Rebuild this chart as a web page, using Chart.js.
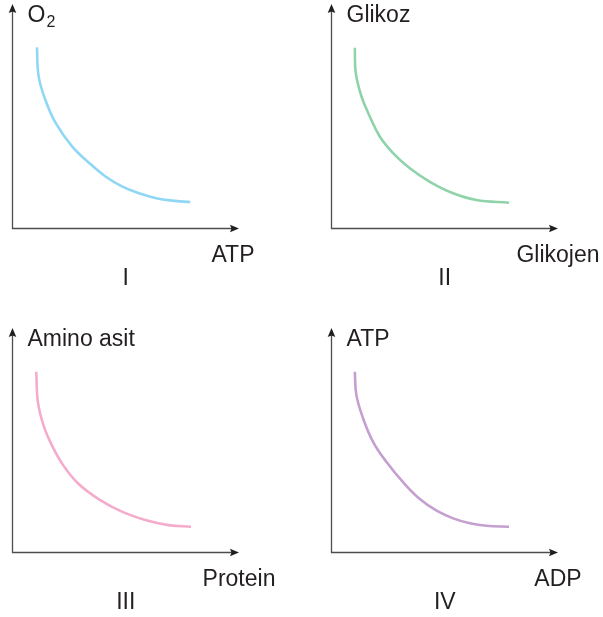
<!DOCTYPE html>
<html>
<head>
<meta charset="utf-8">
<script src="https://cdn.jsdelivr.net/npm/chart.js@4.4.1/dist/chart.umd.min.js"></script>
<style>
    body { margin: 0; background: #fff; }
    #wrap { position: relative; width: 603px; height: 617px; }
    #wrap canvas { position: absolute; }
</style>
</head>
<body>
<div id="wrap">
    <canvas id="panel1" width="300" height="308" style="left:0px;top:0px"></canvas>
    <canvas id="panel2" width="300" height="308" style="left:319px;top:0px"></canvas>
    <canvas id="panel3" width="300" height="308" style="left:0px;top:324px"></canvas>
    <canvas id="panel4" width="300" height="308" style="left:319px;top:324px"></canvas>
</div>
<script>
// values (axes run 0..100, no units)
const panelNames = ['I', 'II', 'III', 'IV'];
const yTitles = ['O', 'Glikoz', 'Amino asit', 'ATP'];
const ySubscripts = ['2', '', '', ''];
const xTitles = ['ATP', 'Glikojen', 'Protein', 'ADP'];
const curveColors = ['#8fd7f5', '#8fd3ab', '#f5abcc', '#c49fd0'];

const curveX1 = [10.8, 11.5, 14.4, 18.9, 26.2, 33.6, 40.9, 48.3, 55.6, 63.0, 70.4, 78.5];
const curveY1 = [80.7, 68.0, 57.6, 47.3, 36.7, 29.4, 23.3, 18.8, 15.8, 13.6, 12.4, 11.8];

const curveX2 = [10.3, 10.7, 13.2, 16.9, 21.3, 27.2, 34.6, 43.4, 53.7, 64.0, 78.4];
const curveY2 = [80.5, 69.4, 58.9, 49.9, 41.0, 33.6, 26.8, 20.8, 15.7, 12.7, 11.5];

const curveX3 = [10.5, 11.2, 13.7, 17.4, 22.5, 29.1, 38.0, 48.3, 58.6, 68.9, 78.8];
const curveY3 = [80.5, 67.1, 56.6, 47.7, 38.7, 30.6, 23.8, 18.2, 14.5, 12.2, 11.5];

const curveX4 = [10.3, 11.0, 14.0, 18.4, 24.3, 31.6, 39.0, 46.4, 53.7, 61.1, 68.4, 78.4];
const curveY4 = [80.5, 70.1, 59.6, 49.2, 40.3, 31.3, 23.8, 18.6, 15.2, 13.0, 11.9, 11.5];

const curvesX = [curveX1, curveX2, curveX3, curveX4];
const curvesY = [curveY1, curveY2, curveY3, curveY4];

const FONT = '"Liberation Sans", Arial, sans-serif';
const TEXT_COLOR = '#231f20';
// x-title centre shift from the arrow tip, per panel
const xTitleShift = [-6, 0, 0, 0];

// axes with arrowheads + all labels
const axesPlugin = {
    id: 'arrowAxes',
    afterDatasetsDraw(chart, args, opts) {
        const ctx = chart.ctx;
        const a = chart.chartArea;
        const i = opts.index;
        ctx.save();
        ctx.strokeStyle = '#4d4d4d';
        ctx.lineWidth = 1.3;
        ctx.beginPath();
        ctx.moveTo(a.left, a.top + 6);
        ctx.lineTo(a.left, a.bottom);
        ctx.lineTo(a.right - 6, a.bottom);
        ctx.stroke();

        ctx.fillStyle = '#231f20';
        // up arrow
        ctx.beginPath();
        ctx.moveTo(a.left, a.top);
        ctx.lineTo(a.left - 3.8, a.top + 9);
        ctx.lineTo(a.left, a.top + 7.5);
        ctx.lineTo(a.left + 3.8, a.top + 9);
        ctx.closePath();
        ctx.fill();
        // right arrow
        ctx.beginPath();
        ctx.moveTo(a.right, a.bottom);
        ctx.lineTo(a.right - 9, a.bottom - 3.8);
        ctx.lineTo(a.right - 7.5, a.bottom);
        ctx.lineTo(a.right - 9, a.bottom + 3.8);
        ctx.closePath();
        ctx.fill();

        ctx.fillStyle = TEXT_COLOR;
        ctx.textBaseline = 'alphabetic';
        ctx.font = '23px ' + FONT;
        // y title
        ctx.textAlign = 'left';
        const yx = a.left + 15;
        const yb = a.top + 18;
        ctx.fillText(yTitles[i], yx, yb);
        if (ySubscripts[i]) {
            const w = ctx.measureText(yTitles[i]).width;
            ctx.font = '16px ' + FONT;
            ctx.fillText(ySubscripts[i], yx + w + 1, yb + 5);
            ctx.font = '23px ' + FONT;
        }
        // x title
        ctx.textAlign = 'center';
        ctx.fillText(xTitles[i], a.right + xTitleShift[i], a.bottom + 33.5);
        // panel numeral
        ctx.fillText(panelNames[i], (a.left + a.right) / 2, a.bottom + 56.5);
        ctx.restore();
    }
};

function createPanel(canvasId, index) {
    const canvas = document.getElementById(canvasId);
    const pts = curvesX[index].map((x, k) => ({ x: x, y: curvesY[index][k] }));
    return new Chart(canvas.getContext('2d'), {
        type: 'line',
        data: {
            datasets: [{
                data: pts,
                borderColor: curveColors[index],
                borderWidth: 2.6,
                pointRadius: 0,
                fill: false,
                tension: 0.4,
                borderCapStyle: 'butt'
            }]
        },
        options: {
            responsive: false,
            animation: false,
            devicePixelRatio: 1,
            layout: {
                padding: { left: 12.5, top: 4, right: 61, bottom: 79.5 }
            },
            plugins: {
                legend: { display: false },
                tooltip: { enabled: false },
                arrowAxes: { index: index }
            },
            scales: {
                x: { type: 'linear', min: 0, max: 100, display: false },
                y: { type: 'linear', min: 0, max: 100, display: false }
            }
        },
        plugins: [axesPlugin]
    });
}

const panels = ['panel1', 'panel2', 'panel3', 'panel4'].map((id, i) => createPanel(id, i));
</script>
</body>
</html>
